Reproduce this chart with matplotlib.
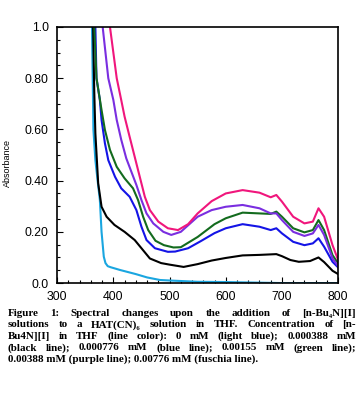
import matplotlib
matplotlib.use("Agg")
import matplotlib.pyplot as plt
from matplotlib.ticker import MultipleLocator, FixedLocator

# wavelength (nm) / absorbance
wl_light = [355, 362, 364.5, 368, 372, 376, 379, 383, 386, 390, 395, 412, 440, 460, 483, 500, 550, 600, 622, 700, 800]
ab_light = [1.20, 1.00, 0.60, 0.48, 0.40, 0.324, 0.20, 0.103, 0.078, 0.066, 0.062, 0.051, 0.035, 0.022, 0.012, 0.010, 0.005, 0.004, 0.003, 0.0, 0.0]

wl_black = [358, 364, 366, 368, 373, 379, 388, 402, 420, 438, 450, 465, 485, 500, 525, 550, 575, 600, 630, 660, 690, 700, 715, 730, 750, 765, 775, 790, 800]
ab_black = [1.20, 1.00, 0.75, 0.585, 0.39, 0.298, 0.259, 0.227, 0.200, 0.168, 0.136, 0.096, 0.078, 0.072, 0.063, 0.074, 0.088, 0.098, 0.108, 0.110, 0.113, 0.105, 0.090, 0.083, 0.086, 0.100, 0.082, 0.048, 0.035]

wl_blue = [362, 368, 370, 376, 379, 385, 391, 403, 414, 429, 441, 450, 459, 474, 497, 510, 533, 555, 580, 600, 630, 660, 680, 690, 700, 720, 740, 755, 765, 775, 790, 800]
ab_blue = [1.20, 1.00, 0.80, 0.715, 0.637, 0.546, 0.48, 0.415, 0.37, 0.337, 0.285, 0.22, 0.168, 0.136, 0.122, 0.123, 0.136, 0.163, 0.195, 0.214, 0.230, 0.220, 0.207, 0.214, 0.194, 0.161, 0.148, 0.155, 0.175, 0.142, 0.083, 0.061]

wl_green = [362, 366, 370, 379, 385, 394, 406, 420, 435, 444, 453, 462, 475, 490, 507, 520, 550, 580, 600, 630, 660, 680, 690, 700, 720, 740, 755, 765, 775, 790, 800]
ab_green = [1.20, 1.00, 0.80, 0.676, 0.598, 0.52, 0.454, 0.409, 0.37, 0.324, 0.259, 0.207, 0.165, 0.148, 0.139, 0.140, 0.180, 0.230, 0.253, 0.275, 0.272, 0.270, 0.279, 0.259, 0.214, 0.198, 0.207, 0.246, 0.207, 0.109, 0.077]

wl_purple = [375, 381, 391, 400, 406, 414, 423, 432, 441, 450, 459, 471, 489, 503, 520, 550, 575, 600, 630, 660, 680, 690, 700, 720, 740, 755, 765, 775, 790, 800]
ab_purple = [1.20, 1.00, 0.80, 0.715, 0.637, 0.56, 0.487, 0.435, 0.383, 0.324, 0.272, 0.233, 0.200, 0.188, 0.200, 0.259, 0.285, 0.298, 0.305, 0.292, 0.272, 0.272, 0.246, 0.200, 0.184, 0.194, 0.227, 0.188, 0.096, 0.066]

wl_fuchsia = [388, 394, 406, 414, 420, 429, 438, 447, 456, 465, 480, 497, 515, 533, 550, 575, 600, 630, 660, 680, 690, 700, 720, 740, 755, 765, 775, 790, 800]
ab_fuchsia = [1.20, 1.00, 0.80, 0.715, 0.65, 0.571, 0.493, 0.415, 0.337, 0.285, 0.24, 0.214, 0.207, 0.23, 0.272, 0.32, 0.35, 0.363, 0.353, 0.335, 0.344, 0.318, 0.259, 0.233, 0.24, 0.292, 0.259, 0.148, 0.09]

series = [
    (wl_light, ab_light, "#1aa6e0"),
    (wl_black, ab_black, "#000000"),
    (wl_blue, ab_blue, "#1414e6"),
    (wl_green, ab_green, "#136b1e"),
    (wl_purple, ab_purple, "#7a2ee0"),
    (wl_fuchsia, ab_fuchsia, "#f0167c"),
]

x_ticks = [300, 400, 500, 600, 700, 800]
y_ticks = [0.0, 0.2, 0.4, 0.6, 0.8, 1.0]
y_labels = ["0.0", "0.20", "0.40", "0.60", "0.80", "1.0"]

caption = [
    "Figure 1: Spectral changes upon the addition of [n-Bu\u2084N][I]",
    "solutions to a HAT(CN)\u2086 solution in THF. Concentration of [n-",
    "Bu4N][I] in THF (line color): 0 mM (light blue); 0.000388 mM",
    "(black line); 0.000776 mM (blue line); 0.00155 mM (green line);",
    "0.00388 mM (purple line); 0.00776 mM (fuschia line).",
]

fig = plt.figure(figsize=(3.64, 3.97), dpi=100)
ax = fig.add_axes([0.157, 0.287, 0.772, 0.645])

for wl, ab, col in series:
    ax.plot(wl, ab, color=col, lw=1.5)

ax.set_xlim(300, 800)
ax.set_ylim(0, 1.0)
ax.xaxis.set_major_locator(FixedLocator(x_ticks))
ax.xaxis.set_minor_locator(MultipleLocator(20))
ax.yaxis.set_major_locator(FixedLocator(y_ticks))
ax.set_yticklabels(y_labels)
ax.yaxis.set_minor_locator(MultipleLocator(0.05))
ax.tick_params(which="both", direction="in", top=False, right=False,
               labelsize=8.8, width=0.8)
ax.tick_params(which="major", length=4, pad=6)
ax.tick_params(which="minor", length=2)
for lab in ax.get_xticklabels() + ax.get_yticklabels():
    lab.set_family("Liberation Sans")
for s in ax.spines.values():
    s.set_linewidth(1.2)
ax.set_ylabel("Absorbance", fontsize=6.5, family="Liberation Sans")
ax.yaxis.set_label_coords(-0.16, 0.47)

# justified caption, word by word
fig.canvas.draw()
renderer = fig.canvas.get_renderer()
left, right = 8 / 364, 356 / 364
fam = ["Liberation Serif", "DejaVu Serif"]
y0 = 1 - 313.5 / 397
dy = 11.4 / 397
fs = 7.9
for i, line in enumerate(caption):
    words = line.split(" ")
    y = y0 - i * dy
    if i == len(caption) - 1:
        fig.text(left, y, line, fontsize=fs, weight="bold", family=fam, va="center")
        continue
    texts = [fig.text(0, y, w, fontsize=fs, weight="bold", family=fam, va="center")
             for w in words]
    widths = [t.get_window_extent(renderer).width / fig.bbox.width for t in texts]
    gap = (right - left - sum(widths)) / (len(words) - 1)
    x = left
    for t, w in zip(texts, widths):
        t.set_x(x)
        x += w + gap

fig.savefig("out.png", dpi=100)
